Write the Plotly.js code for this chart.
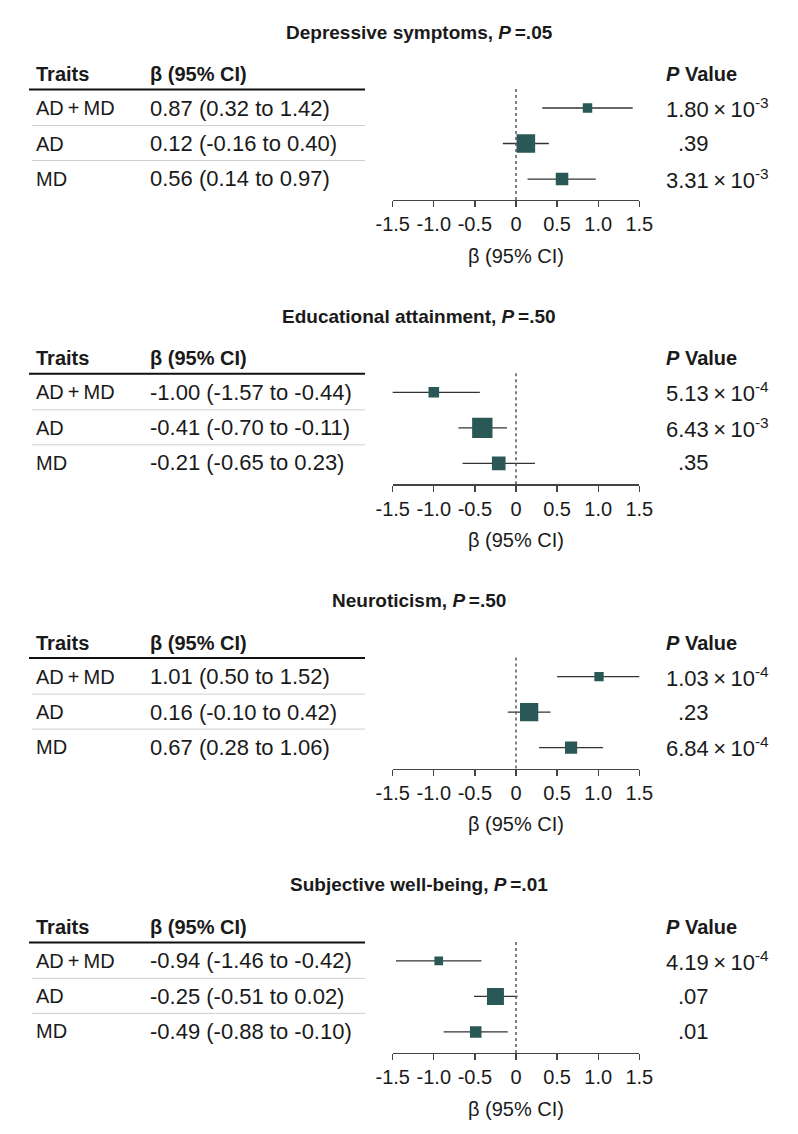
<!DOCTYPE html>
<html>
<head>
<meta charset="utf-8">
<script src="https://cdn.plot.ly/plotly-3.0.1.min.js"></script>
<style>
    html, body { margin: 0; padding: 0; background: #fff; }
    #chart { width: 798px; height: 1134px; }
</style>
</head>
<body>
<div id="chart"></div>
<script>
const Traits = ['AD\u2009+\u2009MD', 'AD', 'MD'];
const Outcomes = ['Depressive symptoms', 'Educational attainment', 'Neuroticism', 'Subjective well-being'];
const HeterogeneityP = [0.05, 0.50, 0.50, 0.01];

const Beta   = [[0.87, 0.12, 0.56], [-1.00, -0.41, -0.21], [1.01, 0.16, 0.67], [-0.94, -0.25, -0.49]];
const CiLow  = [[0.32, -0.16, 0.14], [-1.57, -0.70, -0.65], [0.50, -0.10, 0.28], [-1.46, -0.51, -0.88]];
const CiHigh = [[1.42, 0.40, 0.97], [-0.44, -0.11, 0.23], [1.52, 0.42, 1.06], [-0.42, 0.02, -0.10]];
const PValues = [[1.80e-3, 0.39, 3.31e-3], [5.13e-4, 6.43e-3, 0.35], [1.03e-4, 0.23, 6.84e-4], [4.19e-4, 0.07, 0.01]];

const TickValues = [-1.5, -1, -0.5, 0, 0.5, 1, 1.5];
const TickLabels = ['-1.5', '-1.0', '-0.5', '0', '0.5', '1.0', '1.5'];

// square size ~ precision (1 / CI width), scale per panel
const markerScale = [10.4, 12, 9.5, 9.0];

const W = 798, H = 1134;
const FONT = 'Liberation Sans, Arial, sans-serif';
const TEAL = '#2a5856';
const PANEL_STEP = 284.3;

const px = x => x / W;
const py = y => 1 - y / H;

function fmtP(p) {
    if (p < 0.01) {
        const [m, e] = p.toExponential(2).split('e');
        return { text: m + '\u2009×\u200910<sup>' + e.replace('+', '') + '</sup>', short: false };
    }
    return { text: p.toFixed(2).slice(1), short: true };
}

function fmtCI(b, lo, hi) {
    return `${b.toFixed(2)} (${lo.toFixed(2)} to ${hi.toFixed(2)})`;
}

const data = [];
const annotations = [];
const shapes = [];
const layout = {
    width: W,
    height: H,
    margin: { l: 0, r: 0, t: 0, b: 0 },
    paper_bgcolor: '#fff',
    plot_bgcolor: '#fff',
    showlegend: false,
    font: { family: FONT, size: 20, color: '#1a1a1a' }
};

Outcomes.forEach((outcome, i) => {
    const dy = PANEL_STEP * i;
    const n = i === 0 ? '' : String(i + 1);
    const xa = 'x' + n, ya = 'y' + n;

    data.push({
        type: 'scatter',
        mode: 'markers',
        xaxis: xa,
        yaxis: ya,
        x: Beta[i],
        y: [1, 2, 3],
        marker: {
            symbol: 'square',
            color: TEAL,
            opacity: 1,
            size: Beta[i].map((b, k) => markerScale[i] / (CiHigh[i][k] - CiLow[i][k])),
            line: { width: 0 }
        },
        error_x: {
            type: 'data',
            symmetric: false,
            array: Beta[i].map((b, k) => CiHigh[i][k] - b),
            arrayminus: Beta[i].map((b, k) => b - CiLow[i][k]),
            color: '#333',
            thickness: 1.3,
            width: 0
        },
        hoverinfo: 'skip'
    });

    layout['xaxis' + n] = {
        domain: [px(392.7), px(639.3)],
        anchor: ya,
        range: [-1.5, 1.5],
        tickvals: TickValues,
        ticktext: TickLabels,
        ticks: 'outside',
        ticklen: 6,
        tickwidth: 1.3,
        tickcolor: '#444',
        showline: true,
        linecolor: '#444',
        linewidth: 1.3,
        showgrid: false,
        zeroline: false,
        tickfont: { size: 20 },
        title: { text: 'β (95% CI)', font: { size: 20 }, standoff: 14 },
        fixedrange: true
    };
    layout['yaxis' + n] = {
        domain: [py(200 + dy), py(89 + dy)],
        anchor: xa,
        range: [3.59, 0.465],
        visible: false,
        fixedrange: true
    };

    // zero reference line
    shapes.push({
        type: 'line', xref: xa, yref: ya + ' domain',
        x0: 0, x1: 0, y0: 0, y1: 1,
        line: { color: '#555', width: 1.5, dash: 'dot' }
    });

    // table rules
    shapes.push({
        type: 'line', xref: 'paper', yref: 'paper',
        x0: px(29), x1: px(365), y0: py(89.5 + dy), y1: py(89.5 + dy),
        line: { color: '#111', width: 2 }
    });
    [125.5, 160.5].forEach(yy => shapes.push({
        type: 'line', xref: 'paper', yref: 'paper',
        x0: px(32), x1: px(365), y0: py(yy + dy), y1: py(yy + dy),
        line: { color: '#cfcfcf', width: 1 }
    }));

    const txt = (x, y, text, extra) => annotations.push(Object.assign({
        xref: 'paper', yref: 'paper', x: px(x), y: py(y + dy),
        text, showarrow: false, xanchor: 'left', yanchor: 'middle'
    }, extra || {}));

    txt(419, 32, `<b>${outcome}, <i>P</i>\u2009=${HeterogeneityP[i].toFixed(2).slice(1)}</b>`,
        { xanchor: 'center', font: { size: 19 } });
    txt(34, 74, '<b>Traits</b>');
    txt(148, 74, '<b>β (95% CI)</b>');
    txt(664, 74, '<b><i>P</i> Value</b>');

    const rowY = [108, 143.5, 178.5];
    Traits.forEach((t, k) => {
        txt(34, rowY[k], t);
        txt(148, rowY[k], fmtCI(Beta[i][k], CiLow[i][k], CiHigh[i][k]), { font: { size: 22 } });
        const p = fmtP(PValues[i][k]);
        txt(p.short ? 676 : 664, rowY[k], p.text, { font: { size: 22 } });
    });
});

layout.annotations = annotations;
layout.shapes = shapes;

Plotly.newPlot('chart', data, layout, { staticPlot: true, displayModeBar: false });
</script>
</body>
</html>
